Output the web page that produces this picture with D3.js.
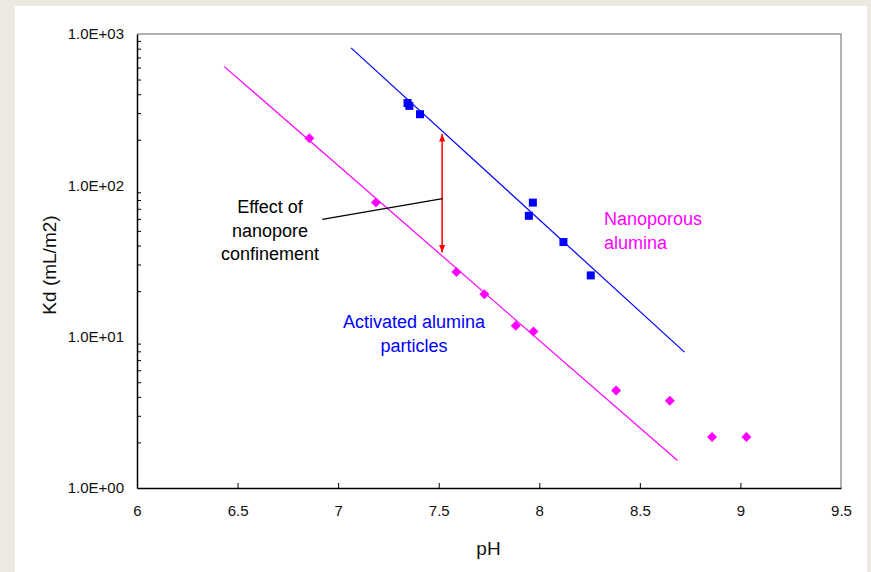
<!DOCTYPE html>
<html>
<head>
<meta charset="utf-8">
<script src="https://cdn.jsdelivr.net/npm/d3@7"></script>
<style>
  body { margin:0; background:#eceae0; font-family: Arial, "Liberation Sans", sans-serif; }
</style>
</head>
<body>
<div id="chart"></div>
<script>
// data
var blueX = [7.345, 7.354, 7.407, 7.948, 7.968, 8.120, 8.256];
var blueY = [350, 335, 295, 62.9, 76.9, 42.2, 25.4];
var pinkX = [6.857, 7.188, 7.588, 7.727, 7.883, 7.971, 8.382, 8.649, 8.859, 9.030];
var pinkY = [205, 76.9, 26.8, 19.1, 11.8, 10.8, 4.41, 3.77, 2.17, 2.17];
var blueFitX = [7.064, 8.722], blueFitY = [809, 7.91];
var pinkFitX = [6.434, 8.687], pinkFitY = [609, 1.52];
var arrowX = [7.517, 7.517], arrowY = [218, 36.0];
var leaderX = [6.921, 7.519], leaderY = [59.5, 81.8];
var xTicks = [6, 6.5, 7, 7.5, 8, 8.5, 9, 9.5];
var yTicks = [1, 10, 100, 1000];

var width = 871, height = 572;
var pLeft = 137, pRight = 841, pTop = 34, pBottom = 488;
var font = "Arial, 'Liberation Sans', sans-serif";

var svg = d3.select("#chart").append("svg")
    .attr("width", width)
    .attr("height", height);

// white panel
svg.append("rect").attr("x", 15).attr("y", 6).attr("width", 852).attr("height", 566).attr("fill", "#fff");

var x = d3.scaleLinear().domain([6, 9.5]).range([pLeft, pRight]);
var y = d3.scaleLog().domain([1, 1000]).range([pBottom, pTop]);

// frame: top/right grey
svg.append("path")
    .attr("d", "M" + pLeft + "," + pTop + "H" + pRight + "V" + pBottom)
    .attr("fill", "none").attr("stroke", "#999").attr("stroke-width", 1.5);

// y axis with minor ticks inside
var minor = [];
for (var d = 1; d < 1000; d *= 10) for (var k = 2; k <= 9; k++) minor.push(d * k);
svg.append("g").attr("transform", "translate(" + pLeft + ",0)")
    .call(d3.axisRight(y).tickValues(minor).tickSize(4).tickFormat(""))
    .call(function(g){ g.select(".domain").remove(); g.selectAll("line").attr("stroke", "#000"); });

var yAx = svg.append("g").attr("transform", "translate(" + pLeft + ",0)")
    .call(d3.axisLeft(y).tickValues(yTicks).tickSize(0).tickPadding(13)
        .tickFormat(function(d){ return "1.0E+0" + Math.round(Math.log10(d)); }));
yAx.attr("font-size", 15).attr("font-family", font);
yAx.select(".domain").attr("stroke", "#000").attr("stroke-width", 1.5);
yAx.selectAll("text").attr("fill", "#111");

// x axis
var xAx = svg.append("g").attr("transform", "translate(0," + pBottom + ")")
    .call(d3.axisBottom(x).tickValues(xTicks).tickSize(0).tickPadding(17).tickFormat(d3.format("")));
xAx.attr("font-size", 15).attr("font-family", font);
xAx.select(".domain").attr("stroke", "#000").attr("stroke-width", 1.5);
xAx.selectAll("text").attr("fill", "#111");
svg.append("g").attr("transform", "translate(0," + pBottom + ")")
    .call(d3.axisTop(x).tickValues(xTicks.slice(1, -1)).tickSize(5).tickFormat(""))
    .call(function(g){ g.select(".domain").remove(); g.selectAll("line").attr("stroke", "#000"); });

// axis titles
svg.append("text").attr("x", (pLeft + pRight) / 2 - 0.5).attr("y", 555)
    .attr("text-anchor", "middle").attr("font-size", 19).attr("fill", "#111").text("pH");
svg.append("text").attr("transform", "translate(56,265) rotate(-90)")
    .attr("text-anchor", "middle").attr("font-size", 19).attr("fill", "#111").text("Kd (mL/m2)");

var line = d3.line().x(function(d){ return x(d[0]); }).y(function(d){ return y(d[1]); });

// fit lines
svg.append("path").datum(d3.zip(blueFitX, blueFitY)).attr("d", line)
    .attr("stroke", "#0000ff").attr("stroke-width", 1.2).attr("fill", "none");
svg.append("path").datum(d3.zip(pinkFitX, pinkFitY)).attr("d", line)
    .attr("stroke", "#ff00ff").attr("stroke-width", 1.2).attr("fill", "none");

// markers
svg.append("g").selectAll("rect").data(d3.zip(blueX, blueY)).enter().append("rect")
    .attr("x", function(d){ return x(d[0]) - 4; })
    .attr("y", function(d){ return y(d[1]) - 4; })
    .attr("width", 8).attr("height", 8).attr("fill", "#0000ff");
svg.append("g").selectAll("path").data(d3.zip(pinkX, pinkY)).enter().append("path")
    .attr("d", "M0,-5L5,0L0,5L-5,0Z")
    .attr("transform", function(d){ return "translate(" + x(d[0]) + "," + y(d[1]) + ")"; })
    .attr("fill", "#ff00ff");

// red double arrow
var defs = svg.append("defs");
defs.append("marker").attr("id", "ah").attr("viewBox", "0 0 10 10").attr("refX", 10).attr("refY", 5)
    .attr("markerWidth", 5).attr("markerHeight", 5).attr("orient", "auto-start-reverse")
  .append("path").attr("d", "M0,1L10,5L0,9Z").attr("fill", "#ff0000");
svg.append("path").datum(d3.zip(arrowX, arrowY)).attr("d", line)
    .attr("stroke", "#ff0000").attr("stroke-width", 1.5).attr("fill", "none")
    .attr("marker-start", "url(#ah)").attr("marker-end", "url(#ah)");

// leader line
svg.append("path").datum(d3.zip(leaderX, leaderY)).attr("d", line)
    .attr("stroke", "#000").attr("stroke-width", 1.2).attr("fill", "none");

// annotations
function label(lines, cx, cy, anchor, color) {
  var t = svg.append("text").attr("font-size", 18).attr("fill", color).attr("text-anchor", anchor);
  lines.forEach(function(s, i){
    t.append("tspan").attr("x", cx).attr("y", cy + i * 23.5).text(s);
  });
}
label(["Effect of", "nanopore", "confinement"], 270, 213, "middle", "#000");
label(["Nanoporous", "alumina"], 604, 225, "start", "#ff00ff");
label(["Activated alumina", "particles"], 414, 328, "middle", "#0000ff");
</script>
</body>
</html>
